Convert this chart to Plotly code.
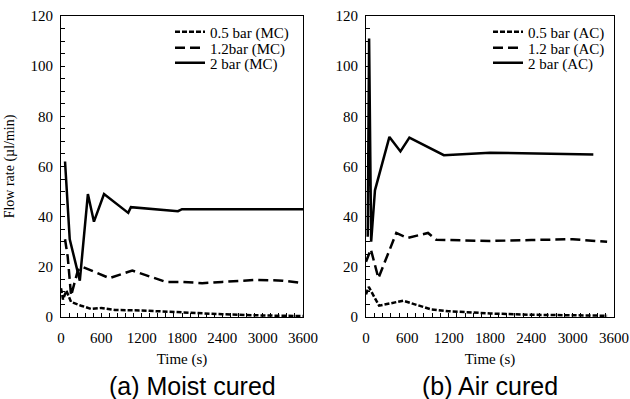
import plotly.graph_objects as go
from plotly.subplots import make_subplots

# ---- data ----
mc_05_t = [0, 30, 80, 150, 300, 450, 600, 800, 1200, 1800, 2400, 3000, 3600]
mc_05_v = [11.5, 7, 10.5, 6, 4.5, 3.2, 3.6, 2.8, 2.6, 1.8, 1.1, 0.6, 0.4]
mc_12_t = [60, 100, 150, 250, 320, 720, 1060, 1560, 1800, 2100, 2400, 2900, 3300, 3600]
mc_12_v = [31, 24, 8.5, 18.5, 20, 15.5, 18.5, 14, 14, 13.5, 14, 14.8, 14.5, 13.5]
mc_2_t = [60, 130, 280, 400, 490, 640, 1000, 1040, 1740, 1800, 2400, 3000, 3600]
mc_2_v = [62, 31, 14.5, 49, 38, 49, 41.5, 43.8, 42.2, 43, 43, 43, 43]

ac_05_t = [0, 40, 90, 190, 540, 950, 1200, 1800, 2400, 3000, 3500]
ac_05_v = [9, 12, 9.5, 4.5, 6.5, 3, 2.3, 1.4, 0.9, 0.6, 0.5]
ac_12_t = [0, 70, 180, 440, 600, 900, 1020, 1800, 2400, 3000, 3500]
ac_12_v = [22, 27, 15.5, 33.5, 31.5, 33.5, 30.8, 30.3, 30.7, 31, 30]
ac_2_t = [25, 45, 75, 130, 340, 500, 630, 1130, 1800, 2400, 3300]
ac_2_v = [32, 111, 30, 50.5, 71.8, 66, 71.5, 64.5, 65.5, 65.2, 64.8]

x_ticks = [0, 600, 1200, 1800, 2400, 3000, 3600]
y_ticks = [0, 20, 40, 60, 80, 100, 120]

names_mc = ["0.5 bar (MC)", "1.2bar (MC)", "2 bar (MC)"]
names_ac = ["0.5 bar (AC)", "1.2 bar (AC)", "2 bar (AC)"]
captions = ["(a) Moist cured", "(b) Air cured"]

SERIF = "Liberation Serif, Times New Roman, serif"
SANS = "Liberation Sans, Arial, sans-serif"
dashes = ["5px,2px", "10px,5px", "solid"]
W, H = 630, 399
row_y = [32, 48, 63]

fig = make_subplots(rows=1, cols=2)

legend_layout = {}
k = 1
for col, names, series, lx in [
    (1, names_mc, [(mc_05_t, mc_05_v), (mc_12_t, mc_12_v), (mc_2_t, mc_2_v)], 170),
    (2, names_ac, [(ac_05_t, ac_05_v), (ac_12_t, ac_12_v), (ac_2_t, ac_2_v)], 488),
]:
    for i, (t, v) in enumerate(series):
        lname = "legend" if k == 1 else f"legend{k}"
        fig.add_trace(go.Scatter(x=t, y=v, mode="lines", name=names[i],
                                 line=dict(color="black", width=2.5, dash=dashes[i]),
                                 legend=lname), row=1, col=col)
        legend_layout[lname] = dict(x=lx / W, y=1 - row_y[i] / H, xanchor="left", yanchor="middle",
                                    bgcolor="rgba(0,0,0,0)", borderwidth=0,
                                    font=dict(family=SERIF, size=15, color="black"))
        k += 1

ydom = [1 - 317 / H, 1 - 16 / H]
axx = dict(range=[0, 3600], tickvals=x_ticks, ticks="inside", ticklen=4, tickcolor="black",
           showline=True, linecolor="black", linewidth=1, mirror=True, showgrid=False,
           zeroline=False, automargin=False, ticklabelstandoff=7,
           tickfont=dict(family=SERIF, size=15, color="black"),
           minor=dict(dtick=120, tick0=0, ticks="inside", ticklen=4, tickcolor="black"),
           title=dict(text="Time (s)", font=dict(family=SERIF, size=15, color="black"), standoff=8))
axy = dict(range=[0, 120], tickvals=y_ticks, ticks="inside", ticklen=4, tickcolor="black",
           showline=True, linecolor="black", linewidth=1, mirror=True, showgrid=False,
           zeroline=False, automargin=False, ticklabelstandoff=4,
           tickfont=dict(family=SERIF, size=15, color="black"),
           minor=dict(dtick=5, tick0=0, ticks="inside", ticklen=4, tickcolor="black"))

fig.update_layout(
    width=W, height=H, margin=dict(l=0, r=0, t=0, b=0, autoexpand=False),
    paper_bgcolor="white", plot_bgcolor="white",
    xaxis=dict(axx, domain=[61 / W, 303 / W]),
    xaxis2=dict(axx, domain=[366 / W, 614 / W]),
    yaxis=dict(axy, domain=ydom,
               title=dict(text="Flow rate (µl/min)", font=dict(family=SERIF, size=14, color="black"), standoff=12)),
    yaxis2=dict(axy, domain=ydom),
    showlegend=True,
    **legend_layout,
)

for cap, xc in zip(captions, [192 / W, 490 / W]):
    fig.add_annotation(text=cap, x=xc, y=1 - 386 / H, xref="paper", yref="paper",
                       showarrow=False, font=dict(family=SANS, size=25, color="black"),
                       xanchor="center", yanchor="middle")

fig.write_html("out.html", post_script="document.body.style.margin='0';",
               config={"displayModeBar": False})
